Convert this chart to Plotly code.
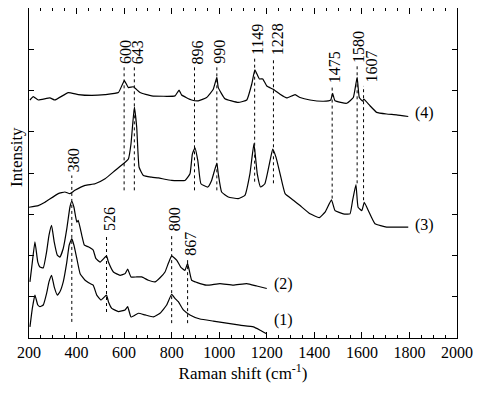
import plotly.graph_objects as go

# ---- data (Raman shift in cm^-1, intensity in arbitrary offset units) ----
wn4 = [204, 218, 239, 288, 309, 365, 407, 464, 520, 576, 601, 618, 639, 667, 716, 814, 831, 842,
       884, 912, 947, 975, 990, 996, 1024, 1080, 1116, 1137, 1150, 1169, 1183, 1200, 1227, 1256,
       1284, 1319, 1340, 1382, 1438, 1469, 1477, 1487, 1536, 1564, 1580, 1589, 1603, 1608, 1634,
       1662, 1704, 1746, 1795]
int4 = [5.77, 5.85, 5.77, 5.82, 5.77, 5.95, 5.90, 5.88, 5.90, 5.95, 6.24, 6.07, 6.09, 5.95, 5.87,
        5.87, 6.01, 5.89, 5.77, 5.75, 5.83, 6.03, 6.32, 6.07, 5.80, 5.71, 5.77, 6.16, 6.50, 6.28,
        6.28, 6.11, 6.03, 5.91, 5.82, 5.90, 5.83, 5.77, 5.74, 5.77, 5.93, 5.75, 5.69, 5.83, 6.32,
        5.83, 5.74, 5.79, 5.63, 5.47, 5.43, 5.41, 5.37]

wn3 = [200, 239, 267, 323, 351, 372, 393, 436, 478, 520, 562, 604, 618, 629, 643, 653, 663, 681,
       716, 744, 800, 856, 877, 887, 898, 910, 923, 952, 968, 990, 996, 1010, 1038, 1080, 1108,
       1129, 1146, 1160, 1174, 1192, 1211, 1225, 1239, 1256, 1277, 1312, 1340, 1382, 1421, 1445,
       1472, 1487, 1522, 1550, 1561, 1575, 1584, 1600, 1610, 1627, 1655, 1704, 1795]
int3 = [3.17, 3.21, 3.29, 3.50, 3.54, 3.50, 3.58, 3.70, 3.74, 3.86, 4.06, 4.26, 4.34, 4.71, 5.60,
        5.11, 4.14, 3.94, 3.90, 3.88, 3.82, 3.82, 3.98, 4.46, 4.61, 4.30, 3.74, 3.66, 3.82, 4.24,
        3.98, 3.54, 3.42, 3.38, 3.46, 3.98, 4.71, 3.98, 3.66, 3.74, 4.22, 4.58, 4.38, 3.98, 3.50,
        3.34, 3.21, 3.01, 2.92, 3.05, 3.35, 3.09, 3.01, 3.01, 3.34, 3.72, 3.17, 3.09, 3.29, 3.09,
        2.77, 2.69, 2.69]

wn2 = [204, 214, 225, 237, 246, 260, 274, 284, 295, 306, 319, 330, 344, 359, 372, 380, 389, 401,
       407, 422, 433, 449, 470, 481, 499, 526, 534, 555, 583, 604, 615, 629, 653, 674, 702, 730,
       751, 772, 786, 800, 821, 838, 856, 867, 884, 905, 947, 1003, 1059, 1116, 1158, 1200]
int2 = [1.36, 1.84, 2.33, 1.84, 1.72, 1.70, 2.09, 2.49, 2.73, 2.33, 2.01, 1.96, 2.17, 2.65, 3.17,
        3.31, 3.17, 2.81, 2.85, 2.49, 2.25, 2.21, 2.13, 1.93, 1.84, 1.99, 1.84, 1.60, 1.52, 1.56,
        1.67, 1.48, 1.48, 1.48, 1.40, 1.36, 1.46, 1.60, 1.81, 1.99, 1.89, 1.72, 1.64, 1.81, 1.40,
        1.35, 1.28, 1.32, 1.28, 1.32, 1.26, 1.20]

wn1 = [204, 214, 225, 237, 246, 260, 274, 284, 295, 306, 319, 330, 344, 359, 369, 380, 389, 401,
       415, 436, 457, 470, 485, 503, 526, 534, 548, 576, 604, 615, 629, 660, 688, 723, 751, 779,
       800, 814, 828, 849, 877, 919, 975, 1031, 1087, 1144, 1172, 1197]
int1 = [0.27, 0.72, 1.04, 0.80, 0.76, 0.80, 1.08, 1.36, 1.52, 1.24, 1.04, 1.12, 1.36, 1.84, 2.25,
        2.41, 2.25, 1.93, 1.56, 1.40, 1.32, 1.28, 1.04, 0.92, 1.04, 0.88, 0.72, 0.64, 0.68, 0.76,
        0.51, 0.60, 0.56, 0.51, 0.60, 0.80, 1.06, 0.96, 0.88, 0.68, 0.56, 0.46, 0.41, 0.36, 0.31,
        0.27, 0.19, 0.11]

# peak markers: position, dotted-line bottom, dotted-line top (label sits above top)
peak_pos = [380, 526, 800, 867, 600, 643, 896, 990, 1149, 1228, 1475, 1580, 1607]
peak_low = [0.39, 0.63, 0.36, 0.36, 3.58, 3.58, 3.58, 3.58, 3.79, 3.75, 3.38, 3.75, 3.34]
peak_high = [3.94, 2.51, 2.51, 1.91, 6.57, 6.57, 6.57, 6.57, 6.79, 6.79, 6.11, 6.60, 6.11]
label_nudge = [2, 3, 3, 3, 2, 4, 3, 3, 3, 4, 3, 2, 8]   # px offset of label text from its line

series_names = ["(1)", "(2)", "(3)", "(4)"]
series_label_x = [1222, 1222, 1815, 1815]
series_label_y = [0.44, 1.31, 2.73, 5.46]

x_ticks = [200, 400, 600, 800, 1000, 1200, 1400, 1600, 1800, 2000]

FONT = "'Times New Roman', 'Liberation Serif', 'DejaVu Serif', serif"

fig = go.Figure()
for wn, it in [(wn1, int1), (wn2, int2), (wn3, int3), (wn4, int4)]:
    fig.add_trace(go.Scatter(x=wn, y=it, mode="lines",
                             line=dict(color="black", width=1.2, shape="spline", smoothing=0.35),
                             showlegend=False, hoverinfo="skip"))

for p, lo, hi, dx in zip(peak_pos, peak_low, peak_high, label_nudge):
    fig.add_trace(go.Scatter(x=[p, p], y=[lo, hi], mode="lines",
                             line=dict(color="black", width=1, dash="dot"),
                             showlegend=False, hoverinfo="skip"))
    fig.add_annotation(x=p, y=hi, text=str(p), textangle=-90, showarrow=False,
                       xanchor="center", yanchor="bottom", yshift=1, xshift=dx,
                       font=dict(family=FONT, size=16, color="black"))

for name, lx, ly in zip(series_names, series_label_x, series_label_y):
    fig.add_annotation(x=lx, y=ly, text=name, showarrow=False, xanchor="left", yanchor="middle",
                       font=dict(family=FONT, size=16, color="black"))

# y-axis title placed as a rotated annotation (matches the reference position)
fig.add_annotation(xref="paper", yref="paper", x=-0.031, y=0.548, text="Intensity",
                   textangle=-90, showarrow=False, xanchor="center", yanchor="middle",
                   font=dict(family=FONT, size=17, color="black"))

# the page body has an 8px default margin, so the figure is sized to fit the 481x394 window
fig.update_layout(
    width=465, height=378,
    margin=dict(l=21, r=16, t=0, b=48),
    plot_bgcolor="white", paper_bgcolor="white",
    font=dict(family=FONT, size=16, color="black"),
    xaxis=dict(range=[200, 2000], tickvals=x_ticks, ticks="inside", ticklen=6, tickcolor="black",
               showline=True, linecolor="black", linewidth=1, mirror="ticks", showgrid=False,
               zeroline=False, tickfont=dict(family=FONT, size=16), automargin=False,
               minor=dict(dtick=50, ticks="inside", ticklen=3, tickcolor="black", showgrid=False),
               title=dict(text="Raman shift (cm<sup>-1</sup>)", font=dict(family=FONT, size=17),
                          standoff=5)),
    yaxis=dict(range=[0, 8], dtick=1, ticks="inside", ticklen=5, tickcolor="black",
               showticklabels=False, showline=True, linecolor="black", linewidth=1, mirror="ticks",
               showgrid=False, zeroline=False, automargin=False),
)

fig.write_html("out.html")
